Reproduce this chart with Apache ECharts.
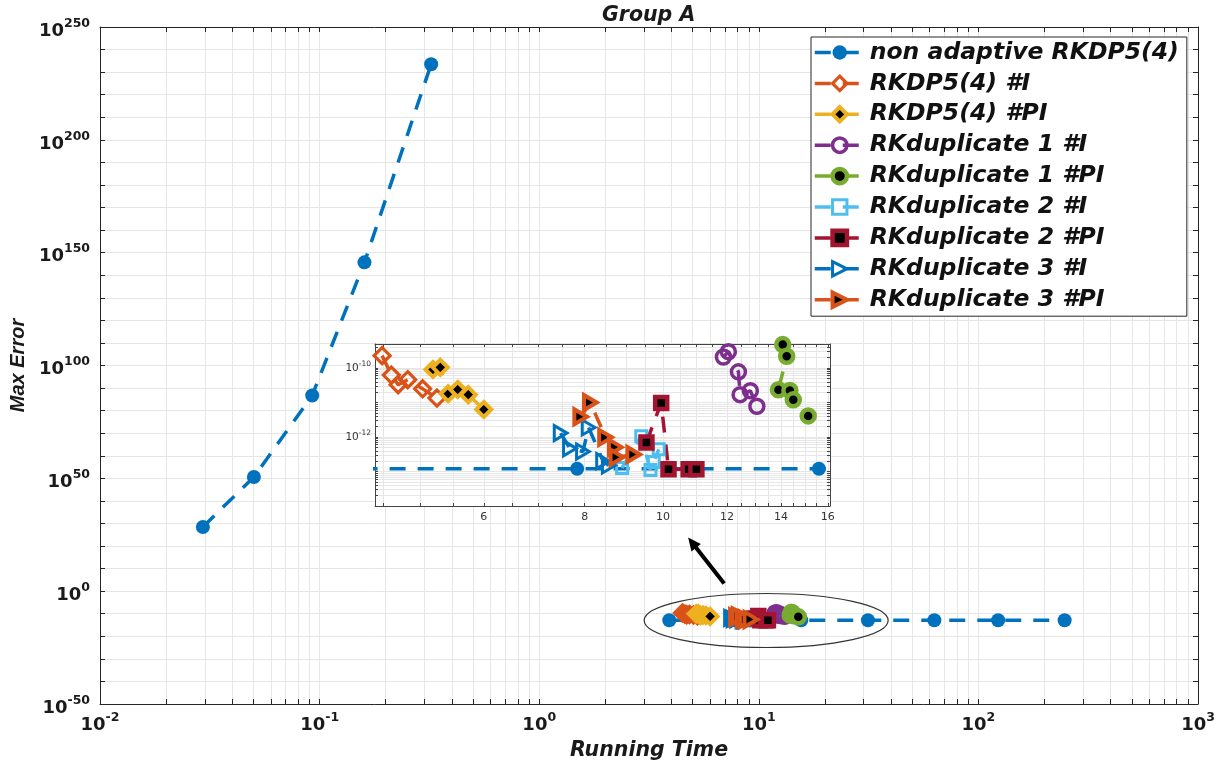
<!DOCTYPE html>
<html>
<head>
<meta charset="utf-8">
<script src="https://cdn.jsdelivr.net/npm/echarts@6.0.0/dist/echarts.min.js"></script>
<style>
  html, body { margin: 0; padding: 0; background: #fff; }
  #chart { width: 1229px; height: 767px; }
</style>
</head>
<body>
<div id="chart"></div>
<script>
// ---- data: running time (s) vs max error ----
// null = run that overflowed (no finite error), breaks the line
const nonAdaptiveTime = [0.0294, 0.0502, 0.0925, 0.160, 0.322, null, 3.91, 7.83, 15.6, 31.4, 63.0, 123, 247];
const nonAdaptiveErr  = [2.8e28, 4e50, 5e86, 5e145, 3.2e233, null, 1.2e-13, 1.2e-13, 1.2e-13, 1.2e-13, 1.2e-13, 1.2e-13, 1.2e-13];

const dpITime = [4.49, 4.61, 4.70, 4.83, 5.04, 5.25];
const dpIErr  = [2.3e-10, 6.3e-11, 3.3e-11, 4.6e-11, 2.5e-11, 1.35e-11];

const dpPITime = [5.19, 5.30, 5.42, 5.57, 5.74, 6.00];
const dpPIErr  = [9.1e-11, 1.05e-10, 1.8e-11, 2.4e-11, 1.7e-11, 6.3e-12];

const dup1ITime = [11.88, 12.05, 12.40, 12.46, 12.83, 13.07];
const dup1IErr  = [2.1e-10, 3.0e-10, 7.8e-11, 1.7e-11, 2.2e-11, 7.8e-12];

const dup1PITime = [14.07, 14.23, 13.90, 14.36, 14.50, 15.13];
const dup1PIErr  = [4.8e-10, 2.2e-10, 2.35e-11, 2.25e-11, 1.2e-11, 4.1e-12];

const dup2ITime = [8.90, 9.40, 9.65, 9.74, 9.88];
const dup2IErr  = [1.27e-13, 1.05e-12, 1.1e-13, 1.9e-13, 4.4e-13];

const dup2PITime = [9.54, 9.95, 10.16, 10.76, 11.00];
const dup2PIErr  = [7.0e-13, 9.8e-12, 1.17e-13, 1.17e-13, 1.17e-13];

const dup3ITime = [7.47, 7.67, 7.96, 8.09, 8.43, 8.57];
const dup3IErr  = [1.3e-12, 4.7e-13, 3.8e-13, 1.9e-12, 2.0e-13, 1.5e-13];

const dup3PITime = [7.91, 8.13, 8.49, 8.73, 8.77, 9.20];
const dup3PIErr  = [3.9e-12, 1.0e-11, 9.8e-13, 5.1e-13, 2.6e-13, 3.1e-13];

const seriesNames = [
  'non adaptive RKDP5(4)', 'RKDP5(4) #I', 'RKDP5(4) #PI',
  'RKduplicate 1 #I', 'RKduplicate 1 #PI', 'RKduplicate 2 #I',
  'RKduplicate 2 #PI', 'RKduplicate 3 #I', 'RKduplicate 3 #PI'
];

// tick values (log axes); the top label sits a hair inside the axis end
const mainXTicks = [];
for (let d = -2; d <= 2; d++) for (let m = 1; m <= 9; m++) mainXTicks.push(parseFloat(m + 'e' + d));
mainXTicks.push(0.99999e3);
const mainXLabels = [1e-2, 1e-1, 1e0, 1e1, 1e2, 0.99999e3];
const mainYTicks = [];
for (let k = -50; k <= 240; k += 10) mainYTicks.push(parseFloat('1e' + k));
mainYTicks.push(0.99999e250);
const mainYLabels = [1e-50, 1e0, 1e50, 1e100, 1e150, 1e200, 0.99999e250];

const insetXTicks = [];
for (let v = 4.5; v <= 16; v += 0.5) insetXTicks.push(v);
const insetXLabels = [6, 8, 10, 12, 14, 16];
const insetYTicks = [];
for (let k = -14; k <= -10; k++) for (let m = 1; m <= 9; m++) {
  const v = parseFloat(m + 'e' + k);
  if (v <= 5e-10) insetYTicks.push(v);
}
const insetYLabels = [1e-12, 1e-10];

// ---- styling ----
const C = {
  blue: '#0072BD', orange: '#D95319', yellow: '#EDB120', purple: '#7E2F8E',
  green: '#77AC30', cyan: '#4DBEEE', maroon: '#A2142F'
};
const AX = '#262626';
const GRIDC = '#e6e6e6';
const TRI = 'path://M0,0L17,10L0,20Z';

const defs = [
  { name: seriesNames[0], t: nonAdaptiveTime, e: nonAdaptiveErr, color: C.blue, symbol: 'circle', size: 14, kind: 'solid' },
  { name: seriesNames[1], t: dpITime, e: dpIErr, color: C.orange, symbol: 'diamond', size: 16, kind: 'hollow', bw: 3.2 },
  { name: seriesNames[2], t: dpPITime, e: dpPIErr, color: C.yellow, symbol: 'diamond', size: 15, kind: 'dot', bw: 4 },
  { name: seriesNames[3], t: dup1ITime, e: dup1IErr, color: C.purple, symbol: 'circle', size: 14, kind: 'hollow', bw: 3.5 },
  { name: seriesNames[4], t: dup1PITime, e: dup1PIErr, color: C.green, symbol: 'circle', size: 13, kind: 'dot', bw: 4.5 },
  { name: seriesNames[5], t: dup2ITime, e: dup2IErr, color: C.cyan, symbol: 'rect', size: 11, kind: 'hollow', bw: 3 },
  { name: seriesNames[6], t: dup2PITime, e: dup2PIErr, color: C.maroon, symbol: 'rect', size: 12, kind: 'dot', bw: 4.5 },
  { name: seriesNames[7], t: dup3ITime, e: dup3IErr, color: C.blue, symbol: TRI, size: 15, kind: 'hollow', bw: 3 },
  { name: seriesNames[8], t: dup3PITime, e: dup3PIErr, color: C.orange, symbol: TRI, size: 15, kind: 'dot', bw: 4 }
];

function itemStyleFor(d) {
  if (d.kind === 'hollow') return { color: 'rgba(255,255,255,0)', borderColor: d.color, borderWidth: d.bw };
  if (d.kind === 'dot') return { color: '#000', borderColor: d.color, borderWidth: d.bw };
  return { color: d.color, borderWidth: 0 };
}

function makeSeries(d, inset) {
  return {
    type: 'line',
    name: d.name,
    xAxisIndex: inset ? 2 : 0,
    yAxisIndex: inset ? 2 : 0,
    data: d.t.map((t, i) => [t, d.e[i]]),
    symbol: d.symbol,
    symbolSize: d.size,
    symbolKeepAspect: true,
    showAllSymbol: true,
    connectNulls: false,
    clip: true,
    lineStyle: { color: d.color, width: 3.5, type: [16, 12] },
    itemStyle: itemStyleFor(d),
    emphasis: { disabled: true },
    silent: true,
    z: inset ? 8 : 3
  };
}

const series = [];
defs.forEach(d => series.push(makeSeries(d, false)));
defs.forEach(d => series.push(makeSeries(d, true)));

const powFmt = v => '{b|10}{s|' + Math.round(Math.log10(v)) + '}';
const mainRich = {
  b: { fontFamily: 'DejaVu Sans', fontWeight: 'bold', fontSize: 18, lineHeight: 20, verticalAlign: 'bottom', color: '#1a1a1a' },
  s: { fontFamily: 'DejaVu Sans', fontWeight: 'bold', fontSize: 12.5, lineHeight: 13, padding: [0, 0, 10, 0], verticalAlign: 'bottom', color: '#1a1a1a' }
};
const insetRich = {
  b: { fontFamily: 'DejaVu Sans', fontSize: 10.5, lineHeight: 12, verticalAlign: 'bottom', color: '#333' },
  s: { fontFamily: 'DejaVu Sans', fontSize: 7.5, lineHeight: 8, padding: [0, 0, 6, 0], verticalAlign: 'bottom', color: '#333' }
};

function logAxis(o) {
  return Object.assign({
    type: 'log', logBase: 10,
    axisLine: { show: true, onZero: false, lineStyle: { color: AX, width: 1 } },
    axisTick: { show: true, inside: true, length: 5, lineStyle: { color: AX, width: 1 } },
    axisLabel: { show: false },
    splitLine: { show: false },
    minorTick: { show: false },
    silent: true
  }, o);
}

const option = {
  animation: false,
  backgroundColor: '#fff',
  title: {
    text: 'Group A', left: 597, top: 1,
    textStyle: { fontFamily: 'DejaVu Sans', fontStyle: 'italic', fontWeight: 'bold', fontSize: 20.5, color: '#1a1a1a' }
  },
  grid: [
    { left: 100, top: 27, width: 1098, height: 677, show: false, z: 0 },
    { left: 375, top: 344, width: 455, height: 162, show: true, backgroundColor: '#fff', borderWidth: 0, z: 5 }
  ],
  xAxis: [
    logAxis({
      gridIndex: 0, position: 'bottom', min: 0.01, max: 1000, z: 1,
      axisTick: { show: true, inside: true, length: 5, customValues: mainXTicks, lineStyle: { color: AX } },
      axisLabel: { show: true, customValues: mainXLabels, formatter: powFmt, rich: mainRich, margin: 10 },
      splitLine: { show: true, lineStyle: { color: GRIDC, width: 1 } },
      name: 'Running Time', nameLocation: 'middle', nameGap: 37,
      nameTextStyle: { fontFamily: 'DejaVu Sans', fontStyle: 'italic', fontWeight: 'bold', fontSize: 20.5, color: '#1a1a1a' }
    }),
    logAxis({
      gridIndex: 0, position: 'top', min: 0.01, max: 1000, z: 1,
      axisTick: { show: true, inside: true, length: 5, customValues: mainXTicks, lineStyle: { color: AX } }
    }),
    logAxis({
      gridIndex: 1, position: 'bottom', min: 4.4, max: 16.1, z: 6,
      axisTick: { show: true, inside: true, length: 3, customValues: insetXTicks, lineStyle: { color: '#444' } },
      axisLabel: { show: true, customValues: insetXLabels, margin: 6, fontFamily: 'DejaVu Sans', fontSize: 11, color: '#333' },
      splitLine: { show: true, lineStyle: { color: GRIDC, width: 1 } },
      axisLine: { show: true, onZero: false, lineStyle: { color: '#444', width: 1 } }
    }),
    logAxis({
      gridIndex: 1, position: 'top', min: 4.4, max: 16.1, z: 6,
      axisTick: { show: true, inside: true, length: 3, customValues: insetXTicks, lineStyle: { color: '#444' } },
      axisLine: { show: true, onZero: false, lineStyle: { color: '#444', width: 1 } }
    })
  ],
  yAxis: [
    logAxis({
      gridIndex: 0, position: 'left', min: 1e-50, max: 1e250, z: 1,
      axisTick: { show: true, inside: true, length: 5, customValues: mainYTicks, lineStyle: { color: AX } },
      axisLabel: { show: true, customValues: mainYLabels, formatter: powFmt, rich: mainRich, margin: 10, padding: [6, 0, 0, 0] },
      splitLine: { show: true, lineStyle: { color: GRIDC, width: 1 } },
      name: 'Max Error', nameLocation: 'middle', nameGap: 70,
      nameTextStyle: { fontFamily: 'Liberation Sans', fontStyle: 'italic', fontWeight: 'bold', fontSize: 20, color: '#1a1a1a' }
    }),
    logAxis({
      gridIndex: 0, position: 'right', min: 1e-50, max: 1e250, z: 1,
      axisTick: { show: true, inside: true, length: 5, customValues: mainYTicks, lineStyle: { color: AX } }
    }),
    logAxis({
      gridIndex: 1, position: 'left', min: 1e-14, max: 5e-10, z: 6,
      axisTick: { show: true, inside: true, length: 3, customValues: insetYTicks, lineStyle: { color: '#444' } },
      axisLabel: { show: true, customValues: insetYLabels, formatter: powFmt, rich: insetRich, margin: 4 },
      splitLine: { show: true, lineStyle: { color: GRIDC, width: 1 } },
      axisLine: { show: true, onZero: false, lineStyle: { color: '#444', width: 1 } }
    }),
    logAxis({
      gridIndex: 1, position: 'right', min: 1e-14, max: 5e-10, z: 6,
      axisTick: { show: true, inside: true, length: 3, customValues: insetYTicks, lineStyle: { color: '#444' } },
      axisLine: { show: true, onZero: false, lineStyle: { color: '#444', width: 1 } }
    })
  ],
  legend: {
    data: seriesNames,
    orient: 'vertical',
    left: 811, top: 37,
    padding: [4, 8, 5, 2],
    itemGap: 7.9,
    itemWidth: 50, itemHeight: 18,
    backgroundColor: '#fff',
    borderColor: AX, borderWidth: 1, borderRadius: 0,
    selectedMode: false,
    itemStyle: { borderWidth: 'inherit' },
    lineStyle: { width: 'inherit' },
    textStyle: { fontFamily: 'DejaVu Sans', fontStyle: 'italic', fontWeight: 'bold', fontSize: 23.5, lineHeight: 22, color: '#111' },
    z: 10
  },
  series: series
};

const chart = echarts.init(document.getElementById('chart'), null, { renderer: 'canvas' });
chart.setOption(option);

// callout: ellipse round the converged cluster and an arrow up to the zoomed panel
const clusterTime = 10.8, clusterErr = 1e-13;
const c = chart.convertToPixel({ xAxisIndex: 0, yAxisIndex: 0 }, [clusterTime, clusterErr]);
const tail = [c[0] - 42, c[1] - 37];
const head = [c[0] - 78, c[1] - 83];
const dx = head[0] - tail[0], dy = head[1] - tail[1];
const len = Math.hypot(dx, dy), ux = dx / len, uy = dy / len;
const hl = 13, hw = 6;
const base = [head[0] - ux * hl, head[1] - uy * hl];
chart.setOption({
  graphic: [
    { type: 'ellipse', z: 9, silent: true,
      shape: { cx: c[0], cy: c[1], rx: 122, ry: 27 },
      style: { fill: 'none', stroke: '#333', lineWidth: 1.2 } },
    { type: 'line', z: 9, silent: true,
      shape: { x1: tail[0], y1: tail[1], x2: base[0] + ux * 2, y2: base[1] + uy * 2 },
      style: { stroke: '#000', lineWidth: 4 } },
    { type: 'polygon', z: 9, silent: true,
      shape: { points: [head, [base[0] - uy * hw, base[1] + ux * hw], [base[0] + uy * hw, base[1] - ux * hw]] },
      style: { fill: '#000' } }
  ]
});
</script>
</body>
</html>
